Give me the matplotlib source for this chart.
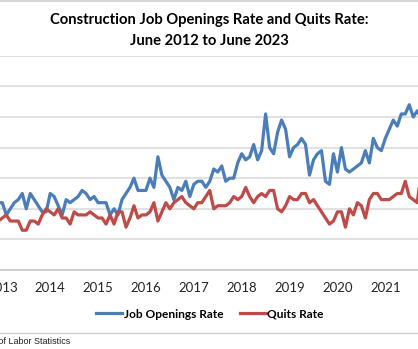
import numpy as np
import pandas as pd
import matplotlib
matplotlib.use("Agg")
import matplotlib.pyplot as plt
from matplotlib.lines import Line2D

FONT = "Lato"
BLUE = "#4a7ebb"
RED = "#be4b48"
GRID = "#d9d9d9"

# monthly, June 2012 .. June 2023
months = pd.date_range("2012-06-01", "2023-06-01", freq="MS")

job_openings = [
    1.9, 2.1, 1.7, 2.0, 2.2, 1.8, 2.2,
    2.2, 1.8, 2.0, 2.2, 2.3, 2.5, 2.0, 2.5, 2.3, 2.1, 1.9, 1.9,
    2.5, 2.4, 2.1, 1.8, 2.3, 2.2, 2.3, 2.4, 2.6, 2.5, 2.3, 2.4,
    2.2, 2.2, 2.2, 1.8, 2.0, 1.8, 2.3, 2.5, 2.7, 3.0, 2.6, 2.6,
    2.6, 3.0, 2.7, 3.7, 3.1, 2.9, 2.7, 2.3, 2.7, 2.6, 2.9, 2.4,
    2.8, 2.9, 2.9, 2.7, 2.9, 3.3, 3.2, 3.4, 2.9, 3.0, 3.0, 3.5,
    3.8, 3.6, 3.7, 4.1, 3.6, 3.9, 5.1, 4.0, 3.8, 4.5, 4.9, 4.6,
    3.7, 4.0, 4.1, 4.3, 4.1, 3.1, 3.6, 3.8, 3.9, 2.9, 2.8, 3.8,
    3.2, 4.0, 3.3, 3.2, 3.3, 3.4, 3.5, 3.9, 3.5, 4.3, 4.0, 3.9,
    4.3, 4.6, 4.9, 4.7, 5.1, 5.1, 5.4, 5.0, 5.2,
    5.0, 4.7, 5.2, 5.6, 5.1, 5.3, 5.5, 4.9, 5.0, 4.8, 5.1, 4.6,
    4.5, 4.9, 4.4, 4.7, 5.0, 4.5, 4.8, 4.3, 4.6,
]

quits = [
    1.6, 1.8, 1.7, 1.9, 1.6, 1.7, 1.6,
    1.7, 1.8, 1.6, 1.6, 1.6, 1.3, 1.3, 1.6, 1.6, 1.5, 1.8, 2.0,
    1.9, 1.8, 2.0, 1.7, 1.7, 1.5, 1.9, 1.8, 1.8, 1.8, 1.9, 1.8,
    1.7, 1.7, 1.5, 1.8, 1.5, 1.9, 1.9, 1.4, 1.7, 2.1, 1.7, 1.8,
    1.8, 1.9, 2.2, 1.6, 1.9, 2.2, 2.0, 2.2, 2.3, 2.4, 2.2, 2.1,
    2.0, 2.2, 2.2, 2.4, 2.6, 2.0, 2.1, 2.1, 2.1, 2.2, 2.4, 2.3,
    2.4, 2.7, 2.4, 2.2, 2.4, 2.5, 2.4, 2.6, 2.6, 2.0, 1.9, 2.1,
    2.4, 2.3, 2.3, 2.5, 2.5, 2.2, 2.3, 2.1, 1.9, 1.7, 1.5, 1.6,
    1.9, 1.9, 1.4, 2.0, 1.8, 2.2, 2.1, 1.7, 2.3, 2.5, 2.5, 2.3,
    2.3, 2.3, 2.4, 2.5, 2.5, 2.9, 2.4, 2.3, 2.2,
    3.2, 2.7, 2.6, 2.8, 2.5, 2.7, 2.9, 2.6, 2.4, 2.6, 2.2, 2.5,
    2.3, 2.1, 2.4, 2.2, 2.0, 2.3, 2.1, 1.9, 2.2,
]

title = "Construction Job Openings Rate and Quits Rate:"
subtitle = "June 2012 to June 2023"
source = "Source: U.S. Bureau of Labor Statistics"

W, H = 418, 349
fig = plt.figure(figsize=(W / 100, H / 100), dpi=100)

# plot area runs wider than the figure on both sides
ax = fig.add_axes([-27.6 / W, (H - 270) / H, 530.6 / W, 214.2 / H])
x = np.arange(len(months))
ax.plot(x, job_openings, color=BLUE, lw=2.3, label="Job Openings Rate",
        solid_joinstyle="round")
ax.plot(x, quits, color=RED, lw=2.3, label="Quits Rate",
        solid_joinstyle="round")

ax.set_xlim(-0.5, len(months) - 0.5)
ax.set_ylim(0, 7)
ax.set_yticks(range(0, 8))
ax.yaxis.grid(True, color=GRID, lw=1.1)
ax.set_axisbelow(True)
for s in ["top", "right", "left"]:
    ax.spines[s].set_visible(False)
ax.spines["bottom"].set_color("#c8c8c8")
ax.spines["bottom"].set_linewidth(1.1)

jan = [i for i, m in enumerate(months) if m.month == 1]
ax.set_xticks(jan)
ax.set_xticklabels([str(months[i].year) for i in jan], family=FONT,
                   fontsize=9.5, color="#262626")
ax.tick_params(axis="x", length=0, pad=9)
ax.tick_params(axis="y", length=0, labelleft=False)

fig.text(0.5, 1 - 20 / H, title, ha="center", va="center", family=FONT,
         fontweight="bold", fontsize=10.6)
fig.text(0.5, 1 - 41 / H, subtitle, ha="center", va="center", family=FONT,
         fontweight="bold", fontsize=10.6)

fig.legend(*ax.get_legend_handles_labels(), loc="center",
           bbox_to_anchor=(210 / W, 1 - 314 / H), ncol=2, frameon=False,
           prop={"family": FONT, "weight": "bold", "size": 8.6},
           handlelength=2.2, handletextpad=0.1, columnspacing=1.4)

# chart area border lines
fig.add_artist(Line2D([0, 1], [1 - 0.5 / H, 1 - 0.5 / H], color="#d0d0d0", lw=1.2))
fig.add_artist(Line2D([0, 1], [1 - 333 / H, 1 - 333 / H], color="#d0d0d0", lw=1.0))

fig.text(70 / W, 1 - 341.5 / H, source, ha="right", va="center",
         family="Liberation Sans", fontsize=6.5, color="#222222")

fig.savefig("out.png", dpi=100, facecolor="white")
